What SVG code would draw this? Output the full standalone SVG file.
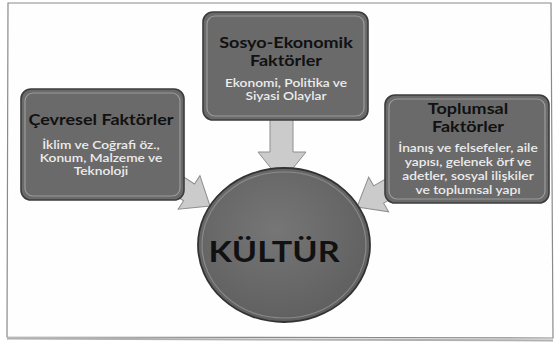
<svg xmlns="http://www.w3.org/2000/svg" width="560" height="347" viewBox="0 0 560 347">
<defs>
<style>
.box{fill:#6a6a6a;stroke:#3c3c3c;stroke-width:1.6}
.hl{fill:none;stroke:#a8a8a8;stroke-width:1.2;opacity:.8}
.arrow{fill:#cbcbcb;stroke:#8e8e8e;stroke-width:1}
.title{font-family:Lato,"Open Sans","Liberation Sans",sans-serif;font-weight:bold;fill:#111;text-anchor:middle;font-size:15px}
.sub{font-family:Lato,"Open Sans","Liberation Sans",sans-serif;font-size:11px;font-weight:600;fill:#ececec;text-anchor:middle}
</style>
<radialGradient id="eg" cx="0.45" cy="0.4" r="0.65">
<stop offset="0" stop-color="#767676"/>
<stop offset="1" stop-color="#5e5e5e"/>
</radialGradient>
</defs>
<rect width="560" height="347" fill="#ffffff"/>
<polygon points="8,3 551,3 553,338 7,337" fill="#fefefe" stroke="#8a8a8a" stroke-width="1.2"/>
<line x1="7" y1="338.5" x2="553" y2="340.5" stroke="#b0b0b0" stroke-width="2"/>
<g id="connectors">
<polygon class="arrow" points="270,118 293,118 293,152 306,152 282,182 258,152 270,152"/>
<polygon class="arrow" transform="translate(210,206) rotate(33)" points="0,0 -25,-20 -25,-10 -55,-10 -55,10 -25,10 -25,20"/>
<polygon class="arrow" transform="translate(357,207) rotate(150)" points="0,0 -25,-20 -25,-10 -55,-10 -55,10 -25,10 -25,20"/>
</g>
<g id="cevresel">
<rect class="box" x="21" y="89" width="163" height="111" rx="10"/>
<rect class="hl" x="25" y="93" width="155" height="103" rx="8"/>
<text class="title" transform="translate(101,125) scale(1.2,1)">Çevresel Faktörler</text>
<text class="sub" transform="translate(101,149) scale(1.25,1)">İklim ve Coğrafi öz.,</text>
<text class="sub" transform="translate(101,162) scale(1.25,1)">Konum, Malzeme ve</text>
<text class="sub" transform="translate(101,175) scale(1.25,1)">Teknoloji</text>
</g>
<g id="sosyo">
<rect class="box" x="203" y="12" width="165" height="108" rx="10"/>
<rect class="hl" x="207" y="16" width="157" height="100" rx="8"/>
<text class="title" transform="translate(286,48) scale(1.2,1)">Sosyo-Ekonomik</text>
<text class="title" transform="translate(286,66) scale(1.2,1)">Faktörler</text>
<text class="sub" transform="translate(286,87) scale(1.25,1)">Ekonomi, Politika ve</text>
<text class="sub" transform="translate(286,100) scale(1.25,1)">Siyasi Olaylar</text>
</g>
<g id="toplumsal">
<rect class="box" x="385" y="95" width="164" height="108" rx="10"/>
<rect class="hl" x="389" y="99" width="156" height="100" rx="8"/>
<text class="title" transform="translate(468,114) scale(1.2,1)">Toplumsal</text>
<text class="title" transform="translate(468,132) scale(1.2,1)">Faktörler</text>
<text class="sub" transform="translate(468,152) scale(1.25,1)">İnanış ve felsefeler, aile</text>
<text class="sub" transform="translate(468,166) scale(1.25,1)">yapısı, gelenek örf ve</text>
<text class="sub" transform="translate(468,180) scale(1.25,1)">adetler, sosyal ilişkiler</text>
<text class="sub" transform="translate(468,194) scale(1.25,1)">ve toplumsal yapı</text>
</g>
<g id="kultur">
<ellipse cx="284" cy="245" rx="86" ry="77" fill="url(#eg)" stroke="#333" stroke-width="1.8"/>
<ellipse cx="284" cy="245" rx="82" ry="73" fill="none" stroke="#9a9a9a" stroke-width="1.2" opacity=".7"/>
<text class="title" transform="translate(274,262) scale(1.22,1)" style="font-size:28px">KÜLTÜR</text>
</g>
</svg>
